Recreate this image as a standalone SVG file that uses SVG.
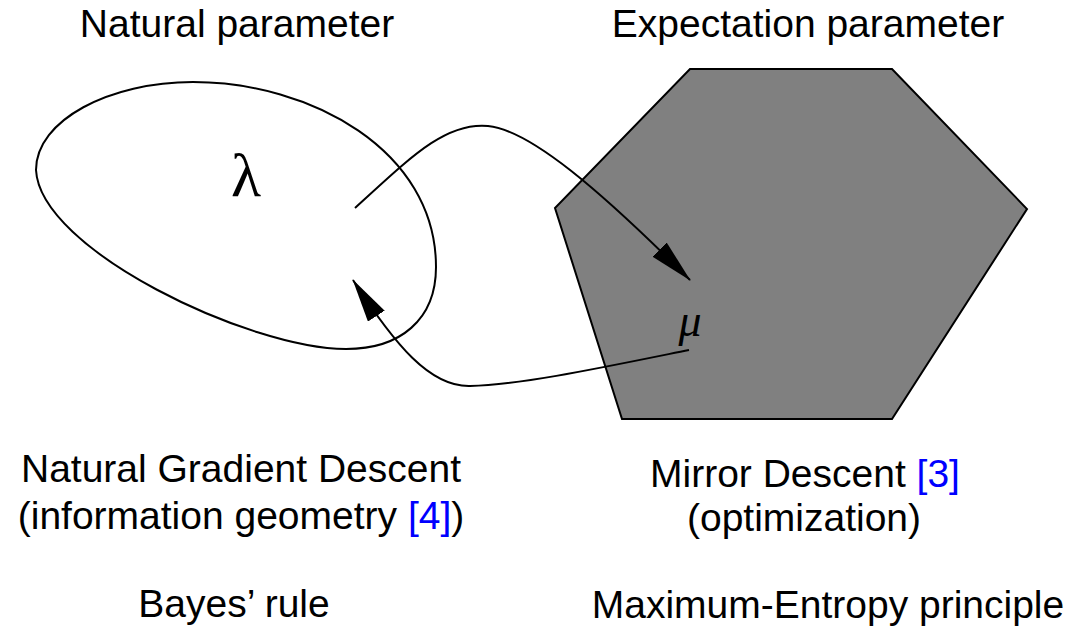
<svg xmlns="http://www.w3.org/2000/svg" width="1081" height="626" viewBox="0 0 1081 626">
  <style>
    .lbl { font-family: "Liberation Sans", Arial, sans-serif; font-size: 39px; fill: #000; text-anchor: middle; }
    .ref { fill: #0000ff; }
    .shape { stroke: #000; stroke-width: 2; }
    .conn { fill: none; stroke: #000; stroke-width: 2; }
    .math { font-family: "Liberation Serif", "DejaVu Serif", serif; fill: #000; text-anchor: middle; }
  </style>
  <defs>
    <marker id="arrow" markerUnits="userSpaceOnUse" viewBox="0 0 44 20" refX="43" refY="10" markerWidth="44" markerHeight="20" orient="auto">
      <path d="M0,0 L44,10 L0,20 z" fill="#000"/>
    </marker>
  </defs>
  <rect width="1081" height="626" fill="#fff"/>

  <g id="natural-space">
    <path class="shape" fill="#fff" d="M 36 170 C 36 120, 110 82, 193 82 C 310 82, 436 150, 436 267 C 436 320, 400 349, 346 349 C 250 349, 40 250, 36 170 Z"/>
    <text class="math" x="246" y="196" font-size="62">λ</text>
  </g>

  <g id="expectation-space">
    <polygon class="shape" fill="#808080" points="690,69 892,69 1027,209 892,419 622,419 555,208"/>
    <text class="math" x="690" y="336" font-size="46" font-style="italic">μ</text>
  </g>

  <g id="connectors">
    <path class="conn" marker-end="url(#arrow)" d="M 355 208 C 410 158, 445 122, 488 126 C 530 130, 600 190, 690 280"/>
    <path class="conn" marker-end="url(#arrow)" d="M 689 350 C 600 368, 520 385, 470 386 C 430 387, 395 345, 353 280"/>
  </g>

  <g id="titles">
    <text class="lbl" x="237" y="37">Natural parameter</text>
    <text class="lbl" x="808" y="37">Expectation parameter</text>
  </g>

  <g id="left-labels">
    <text class="lbl" x="241" y="482">Natural Gradient Descent</text>
    <text class="lbl" x="241" y="529">(information geometry <tspan class="ref">[4]</tspan>)</text>
    <text class="lbl" x="234" y="617">Bayes’ rule</text>
  </g>

  <g id="right-labels">
    <text class="lbl" x="805" y="487">Mirror Descent <tspan class="ref">[3]</tspan></text>
    <text class="lbl" x="804" y="531">(optimization)</text>
    <text class="lbl" x="828" y="618">Maximum-Entropy principle</text>
  </g>
</svg>
